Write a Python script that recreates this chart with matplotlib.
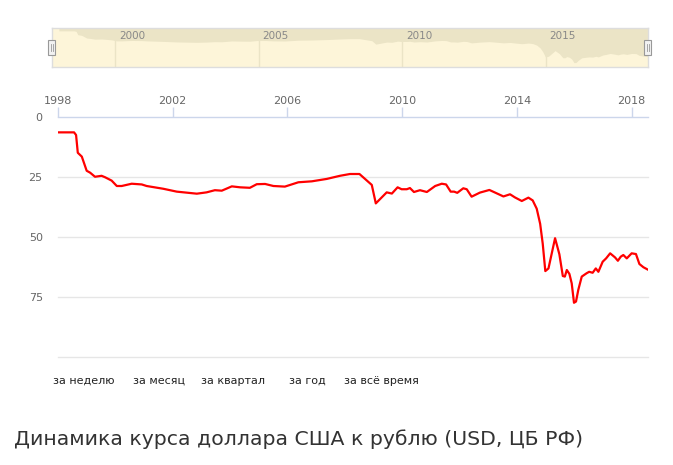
import matplotlib
matplotlib.use("Agg")
import matplotlib.pyplot as plt
from matplotlib.patches import Rectangle
from matplotlib.lines import Line2D

# ---- data ----
years = [1998.03, 1998.56, 1998.63, 1998.69, 1998.83, 1999.0, 1999.12, 1999.29, 1999.52, 1999.64,
         1999.87, 2000.05, 2000.22, 2000.57, 2000.92, 2001.09, 2001.67, 2002.14, 2002.84, 2003.18,
         2003.47, 2003.71, 2004.06, 2004.35, 2004.69, 2004.93, 2005.22, 2005.51, 2005.91, 2006.38,
         2006.85, 2007.37, 2007.83, 2008.18, 2008.51, 2008.94, 2009.08, 2009.46, 2009.64, 2009.84,
         2009.98, 2010.16, 2010.27, 2010.41, 2010.62, 2010.86, 2011.15, 2011.38, 2011.53, 2011.69,
         2011.81, 2011.92, 2012.13, 2012.25, 2012.42, 2012.71, 2013.04, 2013.24, 2013.53, 2013.76,
         2013.93, 2014.17, 2014.40, 2014.55, 2014.69, 2014.81, 2014.90, 2014.99, 2015.10, 2015.33,
         2015.48, 2015.60, 2015.67, 2015.74, 2015.83, 2015.91, 2015.99, 2016.06, 2016.14, 2016.26,
         2016.43, 2016.52, 2016.64, 2016.75, 2016.84, 2016.99, 2017.11, 2017.25, 2017.42, 2017.52,
         2017.62, 2017.71, 2017.83, 2018.00, 2018.15, 2018.27, 2018.41, 2018.55]
usd_rub = [6.4, 6.4, 7.5, 14.9, 16.5, 22.4, 23.2, 24.9, 24.5, 25.1,
           26.5, 28.75, 28.75, 27.8, 28.1, 28.75, 29.9, 31.1, 31.95, 31.4,
           30.5, 30.7, 28.9, 29.3, 29.5, 28.0, 27.9, 28.75, 29.0, 27.2,
           26.8, 25.8, 24.5, 23.75, 23.75, 28.3, 36.0, 31.4, 31.9, 29.3,
           30.1, 30.1, 29.6, 31.25, 30.5, 31.25, 28.75, 27.8, 28.1, 31.1,
           31.1, 31.6, 29.7, 30.1, 33.2, 31.5, 30.4, 31.5, 33.1, 32.2,
           33.5, 35.0, 33.6, 34.75, 38.2, 44.5, 52.8, 64.2, 63.1, 50.5,
           57.2, 66.25, 66.5, 63.75, 65.4, 69.3, 77.4, 76.9, 72.0, 66.5,
           65.1, 64.5, 64.9, 63.1, 64.5, 60.3, 58.9, 56.8, 58.5, 59.9,
           58.2, 57.5, 58.9, 56.8, 57.1, 61.25, 62.6, 63.5]
x_ticks = [1998, 2002, 2006, 2010, 2014, 2018]
y_ticks = [0, 25, 50, 75]
nav_ticks = [2000, 2005, 2010, 2015]
buttons = ["за неделю", "за месяц", "за квартал", "за год", "за всё время"]
title = "Динамика курса доллара США к рублю (USD, ЦБ РФ)"

W, H = 673, 465
fig = plt.figure(figsize=(W / 100, H / 100), dpi=100)
fig.patch.set_facecolor("white")


def fx(px):
    return px / W


def fy(py):
    return (H - py) / H


# ---- main chart (vertically flipped layout) ----
ax = fig.add_axes([fx(58), fy(357), fx(648) - fx(58), fy(117) - fy(357)])
ax.set_xlim(1998.0, 2018.57)
ax.set_ylim(100, 0)
for v in [25, 50, 75, 100]:
    ax.axhline(v, color="#e6e6e6", lw=1, clip_on=False, zorder=1)
ax.plot(years, usd_rub, color="#ff0000", lw=1.6, zorder=3, solid_joinstyle="round")
for s in ["left", "right", "bottom"]:
    ax.spines[s].set_visible(False)
ax.spines["top"].set_color("#ccd6eb")
ax.spines["top"].set_linewidth(1)
ax.xaxis.set_ticks_position("top")
ax.set_xticks(x_ticks)
ax.set_xticklabels([str(t) for t in x_ticks])
ax.tick_params(axis="x", direction="out", length=7, color="#ccd6eb", width=1,
               labelsize=8, labelcolor="#666666", pad=1)
ax.set_yticks(y_ticks)
ax.set_yticklabels([str(t) for t in y_ticks])
ax.tick_params(axis="y", length=0, labelsize=8, labelcolor="#666666", pad=11)
ax.set_facecolor("none")

# ---- navigator (top) ----
nav = fig.add_axes([fx(52), fy(67), fx(648) - fx(52), fy(28) - fy(67)])
nav.set_xlim(1997.79, 2018.57)
nav.set_ylim(87, 0)
nav.set_facecolor("#fdf5d9")
nav.fill_between(years, 0, usd_rub, color="#ebe4c6", lw=0, zorder=1)
for t in nav_ticks:
    nav.axvline(t, color="#ebe4c6", lw=1, zorder=2)
    nav.text(t + 0.13, 17, str(t), fontsize=7.5, color="#888888", ha="left", va="center", zorder=3)
nav.set_xticks([])
nav.set_yticks([])
for s in nav.spines.values():
    s.set_color("#dddddd")
    s.set_linewidth(1)

# handles
for cx in [52, 648]:
    hx0, hy0, hw, hh = cx - 4, 40.5, 7, 14.5
    fig.add_artist(Rectangle((fx(hx0), fy(hy0 + hh)), hw / W, hh / H,
                             facecolor="#f2f2f2", edgecolor="#999999", lw=0.8,
                             transform=fig.transFigure, zorder=5))
    for dx in [-1, 1]:
        fig.add_artist(Line2D([fx(cx - 0.5 + dx), fx(cx - 0.5 + dx)], [fy(44), fy(51)],
                              color="#999999", lw=0.6, transform=fig.transFigure, zorder=6))

# ---- range buttons (bottom) ----
btn_x = [53, 133, 201, 289, 344]
for bx, lab in zip(btn_x, buttons):
    fig.text(fx(bx), fy(381), lab, fontsize=8, color="#222222", ha="left", va="center")

# ---- title (bottom) ----
fig.text(fx(14), fy(439), title, fontsize=14.7, color="#333333", ha="left", va="center")

fig.savefig("out.png", dpi=100, facecolor="white")
